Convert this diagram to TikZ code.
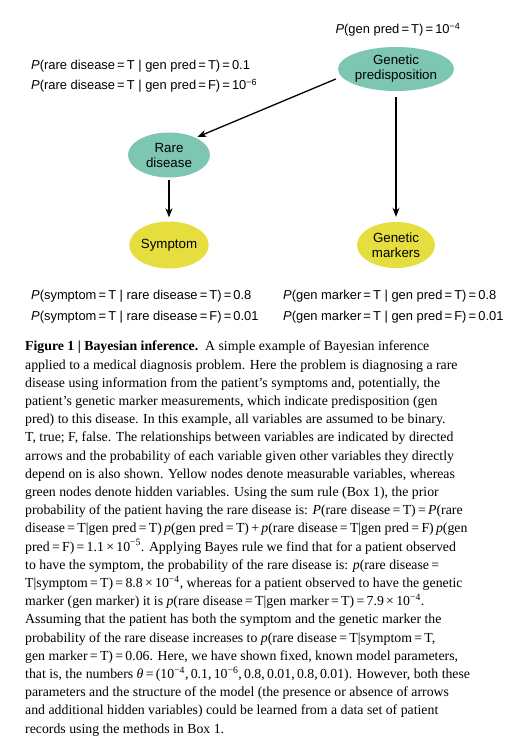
\documentclass[tikz,border=0pt]{standalone}
\usepackage{fontspec}
\setmainfont{Liberation Serif}
\newfontfamily\labelfont{Liberation Sans}
\usetikzlibrary{shapes.geometric,arrows.meta}
\definecolor{hiddengreen}{RGB}{125,198,178}
\definecolor{measyellow}{RGB}{230,222,62}
\newcommand{\eqs}{\,=\,}

\begin{document}
\begin{tikzpicture}[x=1pt,y=-1pt,
	varnode/.style={ellipse,inner sep=0pt,align=center,font=\labelfont\fontsize{13.3}{15}\selectfont},
	hidden/.style={varnode,fill=hiddengreen},
	measured/.style={varnode,fill=measyellow},
	prob/.style={inner sep=0pt,font=\labelfont\fontsize{12.9}{14}\selectfont},
	link/.style={-{Stealth[length=9pt,width=7pt]},line width=1.3pt}]
	\useasboundingbox (0,0) rectangle (516,751);
	% network
	\node[hidden,minimum width=114pt,minimum height=44pt] (gp) at (396,69) {Genetic\\predisposition};
	\node[hidden,minimum width=82pt,minimum height=45pt] (rd) at (169,155) {Rare\\disease};
	\node[measured,minimum width=79pt,minimum height=47pt] (sym) at (169,245) {Symptom};
	\node[measured,minimum width=78pt,minimum height=46pt] (gm) at (396,245) {Genetic\\markers};
	\draw[link,shorten <=6pt,shorten >=2pt] (gp.188) -- (rd.33);
	\draw[link,shorten <=2pt,shorten >=4pt] (rd) -- (sym);
	\draw[link,shorten <=6pt,shorten >=5pt] (gp) -- (gm);
	% probability tables
	\node[prob] (pgp) at (398,30) {\textit{P}(gen pred\eqs T)\eqs 10\textsuperscript{−4}};
	\node[prob,anchor=west] (prd1) at (31,66) {\textit{P}(rare disease\eqs T | gen pred\eqs T)\eqs 0.1};
	\node[prob,anchor=west] (prd2) at (31,86) {\textit{P}(rare disease\eqs T | gen pred\eqs F)\eqs 10\textsuperscript{−6}};
	\node[prob,anchor=west] (psym1) at (31,296) {\textit{P}(symptom\eqs T | rare disease\eqs T)\eqs 0.8};
	\node[prob,anchor=west] (psym2) at (31,317) {\textit{P}(symptom\eqs T | rare disease\eqs F)\eqs 0.01};
	\node[prob,anchor=west] (pgm1) at (283,296) {\textit{P}(gen marker\eqs T | gen pred\eqs T)\eqs 0.8};
	\node[prob,anchor=west] (pgm2) at (283,317) {\textit{P}(gen marker\eqs T | gen pred\eqs F)\eqs 0.01};
	% caption
	\node[anchor=north west,inner sep=0pt,align=left,font=\fontsize{13.8}{18.2}\selectfont] (caption) at (25,341) {%
		\textbf{Figure 1 | Bayesian inference.}\enspace A simple example of Bayesian inference\\
		applied to a medical diagnosis problem. Here the problem is diagnosing a rare\\
		disease using information from the patient’s symptoms and, potentially, the\\
		patient’s genetic marker measurements, which indicate predisposition (gen\\
		pred) to this disease. In this example, all variables are assumed to be binary.\\
		T, true; F, false. The relationships between variables are indicated by directed\\
		arrows and the probability of each variable given other variables they directly\\
		depend on is also shown. Yellow nodes denote measurable variables, whereas\\
		green nodes denote hidden variables. Using the sum rule (Box 1), the prior\\
		probability of the patient having the rare disease is: \textit{P}(rare disease\eqs T)\eqs\textit{P}(rare\\
		disease\eqs T|gen pred\eqs T)\,\textit{p}(gen pred\eqs T)\,+\,\textit{p}(rare disease\eqs T|gen pred\eqs F)\,\textit{p}(gen\\
		pred\eqs F)\eqs 1.1\,×\,10\textsuperscript{−5}. Applying Bayes rule we find that for a patient observed\\
		to have the symptom, the probability of the rare disease is: \textit{p}(rare disease\eqs\\
		T|symptom\eqs T)\eqs 8.8\,×\,10\textsuperscript{−4}, whereas for a patient observed to have the genetic\\
		marker (gen marker) it is \textit{p}(rare disease\eqs T|gen marker\eqs T)\eqs 7.9\,×\,10\textsuperscript{−4}.\\
		Assuming that the patient has both the symptom and the genetic marker the\\
		probability of the rare disease increases to \textit{p}(rare disease\eqs T|symptom\eqs T,\\
		gen marker\eqs T)\eqs 0.06. Here, we have shown fixed, known model parameters,\\
		that is, the numbers \textit{θ}\eqs(10\textsuperscript{−4},\,0.1,\,10\textsuperscript{−6},\,0.8,\,0.01,\,0.8,\,0.01). However, both these\\
		parameters and the structure of the model (the presence or absence of arrows\\
		and additional hidden variables) could be learned from a data set of patient\\
		records using the methods in Box 1.};
\end{tikzpicture}
\end{document}
